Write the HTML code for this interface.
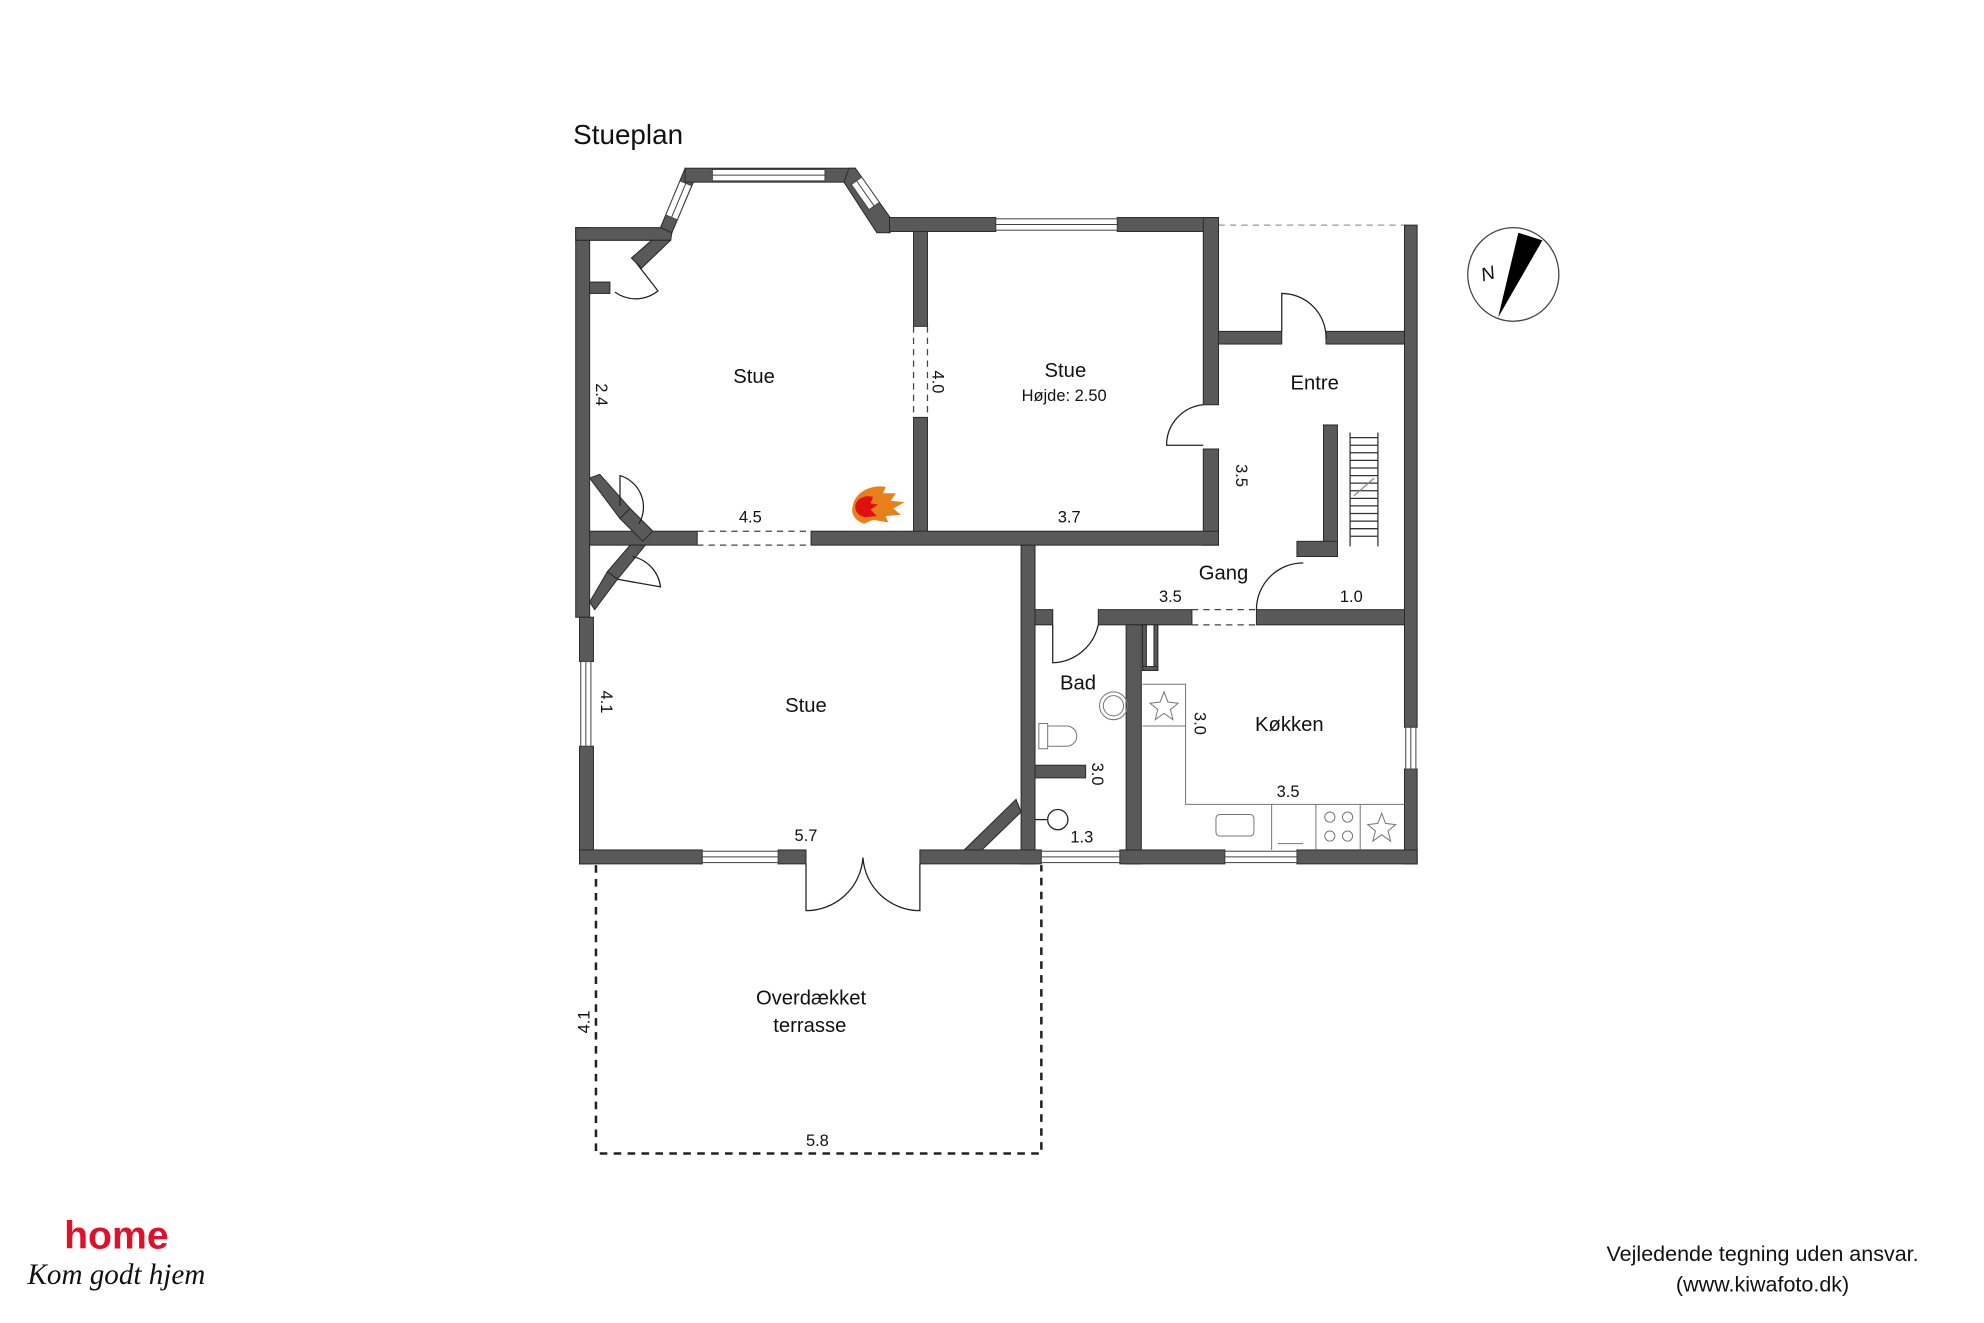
<!DOCTYPE html>
<html><head><meta charset="utf-8"><style>
html,body{margin:0;padding:0;background:#fff;}
svg{display:block;}
text{font-family:"Liberation Sans",Arial,sans-serif;fill:#111;}
</style></head><body>
<svg width="1984" height="1323" viewBox="0 0 1568 1046" preserveAspectRatio="none" xmlns="http://www.w3.org/2000/svg">
<rect x="0" y="0" width="1568" height="1046" fill="#fff"/>
<text x="453" y="114" font-size="22">Stueplan</text>

<line x1="963" y1="178" x2="1112" y2="178" stroke="#999" stroke-width="1" stroke-dasharray="5,4"/>

<g fill="#595959" stroke="#2a2a2a" stroke-width="0.8">
<rect x="455" y="180" width="11" height="308"/>
<rect x="458" y="488" width="11" height="35"/>
<rect x="458" y="590" width="11" height="93"/>
<!-- top-left -->
<polygon points="455,180 522,180 531,184 530,190 455,190"/>
<polygon points="515,190 530,190 507,212 499,204"/>
<rect x="466" y="223" width="16" height="9"/>
<!-- bay -->
<polygon points="541.5,133 551,137 531,184 522,180"/>
<rect x="541.5" y="133" width="134.5" height="11"/>
<polygon points="671,133 676,133 703.5,172 703.5,184 693,184 667,144"/>
<rect x="703" y="172" width="84" height="11"/>
<rect x="883" y="172" width="80" height="11"/>
<rect x="951" y="172" width="12" height="148"/>
<rect x="951" y="355" width="12" height="76"/>
<rect x="963" y="262" width="50" height="10"/>
<rect x="1048" y="262" width="62" height="10"/>
<rect x="1110" y="178" width="10" height="397"/>
<rect x="1110" y="608" width="10" height="75"/>
<rect x="722" y="183" width="11" height="75"/>
<rect x="722" y="330" width="11" height="95"/>
<rect x="466" y="420" width="85" height="11"/>
<rect x="641" y="420" width="322" height="11"/>
<polygon points="466,378 474,375 498,402 490,410"/>
<polygon points="490,410 498,402 516,420 508,428"/>
<polygon points="498,431 510,431 488,458 480,452"/>
<polygon points="466,476 480,452 488,458 470,482"/>
<rect x="807" y="431" width="11" height="252"/>
<rect x="818" y="482" width="14" height="12"/>
<rect x="868" y="482" width="74" height="12"/>
<rect x="993" y="482" width="117" height="12"/>
<rect x="1046" y="336" width="11" height="104"/>
<rect x="1025" y="428" width="32" height="12"/>
<rect x="890" y="494" width="12" height="189"/>
<rect x="903" y="494" width="12" height="36" fill="#fff"/>
<rect x="903" y="494" width="3" height="36"/>
<rect x="912" y="494" width="3" height="36"/>
<rect x="903" y="527" width="12" height="3"/>
<rect x="818" y="605" width="40" height="10"/>
<polygon points="762,672 803,632 807,642 776,672"/>
<rect x="458" y="672" width="97" height="11"/>
<rect x="615" y="672" width="22" height="11"/>
<rect x="727" y="672" width="96" height="11"/>
<rect x="885" y="672" width="83" height="11"/>
<rect x="1025" y="672" width="95" height="11"/>
</g>

<g fill="#fff" stroke="#444" stroke-width="0.8">
<rect x="563" y="134" width="89" height="9"/><line x1="563" y1="138.5" x2="652" y2="138.5"/>
<polygon points="537.4,143 546.6,146.8 535.3,173.8 526.1,170"/>
<line x1="542" y1="145" x2="530.7" y2="172"/>
<polygon points="681,140 672.8,145.8 686.8,165.8 695,160"/>
<line x1="676.9" y1="142.9" x2="690.9" y2="162.9"/>
<rect x="787" y="173" width="96" height="9"/><line x1="787" y1="177.5" x2="883" y2="177.5"/>
<rect x="459" y="523" width="8" height="67"/><line x1="463" y1="523" x2="463" y2="590"/>
<rect x="555" y="673" width="60" height="9"/><line x1="555" y1="677.5" x2="615" y2="677.5"/>
<rect x="823" y="673" width="62" height="9"/><line x1="823" y1="677.5" x2="885" y2="677.5"/>
<rect x="968" y="673" width="57" height="9"/><line x1="968" y1="677.5" x2="1025" y2="677.5"/>
<rect x="1111" y="575" width="8" height="33"/><line x1="1115" y1="575" x2="1115" y2="608"/>
</g>

<g stroke="#444" stroke-width="1" stroke-dasharray="5,4" fill="none">
<line x1="551" y1="420" x2="641" y2="420"/><line x1="551" y1="431" x2="641" y2="431"/>
<line x1="722" y1="258" x2="722" y2="330"/><line x1="733" y1="258" x2="733" y2="330"/>
<line x1="942" y1="482" x2="993" y2="482"/><line x1="942" y1="494" x2="993" y2="494"/>
</g>

<g stroke="#222" stroke-width="1" fill="none">
<path d="M503,208 L520,230 A28,28 0 0 1 486,231"/>
<path d="M490,400 L490,376 A26,26 0 0 1 505,414"/>
<path d="M488,458 L522,464 A28,28 0 0 0 500,440"/>
<path d="M951,320 A32,32 0 0 0 922,352 L951,352"/>
<path d="M1013,262 L1013,232 A35,35 0 0 1 1048,268"/>
<path d="M993,482 A37,37 0 0 1 1030,445"/>
<path d="M832,494 L832,524 A38,38 0 0 0 868,494"/>
<path d="M637,683 L637,720 A45,45 0 0 0 682,678 A45,45 0 0 0 727,720 L727,683"/>
</g>

<path d="M471,684 L471,912 L823,912 L823,684" fill="none" stroke="#222" stroke-width="2" stroke-dasharray="6,5"/>

<g stroke="#333" stroke-width="1">
<line x1="1067" y1="342" x2="1067" y2="432"/><line x1="1089" y1="342" x2="1089" y2="432"/>
<line x1="1067" y1="346" x2="1089" y2="346"/><line x1="1067" y1="352" x2="1089" y2="352"/>
<line x1="1067" y1="358" x2="1089" y2="358"/><line x1="1067" y1="364" x2="1089" y2="364"/>
<line x1="1067" y1="370" x2="1089" y2="370"/><line x1="1067" y1="376" x2="1089" y2="376"/>
<line x1="1067" y1="382" x2="1089" y2="382"/><line x1="1067" y1="388" x2="1089" y2="388"/>
<line x1="1067" y1="394" x2="1089" y2="394"/><line x1="1067" y1="400" x2="1089" y2="400"/>
<line x1="1067" y1="406" x2="1089" y2="406"/><line x1="1067" y1="412" x2="1089" y2="412"/>
<line x1="1067" y1="418" x2="1089" y2="418"/><line x1="1067" y1="424" x2="1089" y2="424"/>
<line x1="1070" y1="392" x2="1086" y2="378" stroke="#888"/>
</g>

<g stroke="#777" stroke-width="0.8" fill="none">
<path d="M903,541 L937,541 L937,636 L1110,636"/>
<line x1="903" y1="574" x2="937" y2="574"/>
<line x1="1005" y1="636" x2="1005" y2="672"/><line x1="1040" y1="636" x2="1040" y2="672"/><line x1="1075" y1="636" x2="1075" y2="672"/>
<rect x="961" y="644" width="30" height="17" rx="3"/>
<circle cx="1051" cy="646" r="4"/><circle cx="1065" cy="646" r="4"/><circle cx="1051" cy="661" r="4"/><circle cx="1065" cy="661" r="4"/>
<line x1="1010" y1="667" x2="1030" y2="667"/>
<path d="M920,547 L923,555 L931,556 L925,561 L927,569 L920,564 L913,569 L915,561 L909,556 L917,555 Z"/>
<path d="M1092,643 L1095,651 L1103,652 L1097,657 L1099,665 L1092,660 L1085,665 L1087,657 L1081,652 L1089,651 Z"/>
<circle cx="880" cy="558" r="11"/><circle cx="880" cy="558" r="8"/>
<rect x="821" y="572" width="7" height="20"/>
<path d="M828,574 L843,574 A8,8 0 0 1 843,590 L828,590"/>
</g>
<g stroke="#222" stroke-width="1" fill="none">
<circle cx="836" cy="648" r="8"/><line x1="818" y1="648" x2="828" y2="648"/>
</g>

<g>
<path d="M674,400 C676,388 690,383 700,385 L698,390 L708,390 L704,396 L715,397 L706,402 L712,407 L700,408 L702,413 L690,411 L683,414 C676,412 672,406 674,400 Z" fill="#e8801a"/>
<path d="M676,401 C676,394 684,391 690,393 L688,398 L694,399 L688,403 L693,408 L684,409 C679,408 676,405 676,401 Z" fill="#e01010"/>
</g>

<ellipse cx="1196" cy="217" rx="36" ry="37" fill="none" stroke="#444" stroke-width="1"/>
<polygon points="1200,184 1219,190 1184,251" fill="#000"/>
<text x="1170" y="222" font-size="15" fill="#666" transform="rotate(-15 1173 215)" font-style="italic">N</text>

<g font-size="16" text-anchor="middle">
<text x="596" y="303">Stue</text>
<text x="842" y="298">Stue</text>
<text x="1039" y="308">Entre</text>
<text x="967" y="458">Gang</text>
<text x="852" y="545">Bad</text>
<text x="1019" y="578">Køkken</text>
<text x="637" y="563">Stue</text>
<text x="641" y="794">Overdækket</text>
<text x="640" y="816">terrasse</text>
</g>
<g font-size="13" text-anchor="middle">
<text x="841" y="317">Højde: 2.50</text>
<text x="593" y="413">4.5</text>
<text x="845" y="413">3.7</text>
<text x="925" y="476">3.5</text>
<text x="1068" y="476">1.0</text>
<text x="855" y="666">1.3</text>
<text x="1018" y="630">3.5</text>
<text x="637" y="665">5.7</text>
<text x="646" y="906">5.8</text>
<text transform="translate(471,312) rotate(90)">2.4</text>
<text transform="translate(737,302) rotate(90)">4.0</text>
<text transform="translate(977,376) rotate(90)">3.5</text>
<text transform="translate(863,612) rotate(90)">3.0</text>
<text transform="translate(944,572) rotate(90)">3.0</text>
<text transform="translate(475,555) rotate(90)">4.1</text>
<text transform="translate(466,808) rotate(-90)">4.1</text>
</g>

<g font-size="17" text-anchor="middle">
<text x="1393" y="997">Vejledende tegning uden ansvar.</text>
<text x="1393" y="1021">(www.kiwafoto.dk)</text>
</g>

<text x="92" y="987" font-size="31" font-weight="bold" text-anchor="middle" style="fill:#e0102a">home</text>
<text x="92" y="1015" font-size="23" font-style="italic" text-anchor="middle" style="font-family:'Liberation Serif',serif">Kom godt hjem</text>
</svg>
</body></html>
